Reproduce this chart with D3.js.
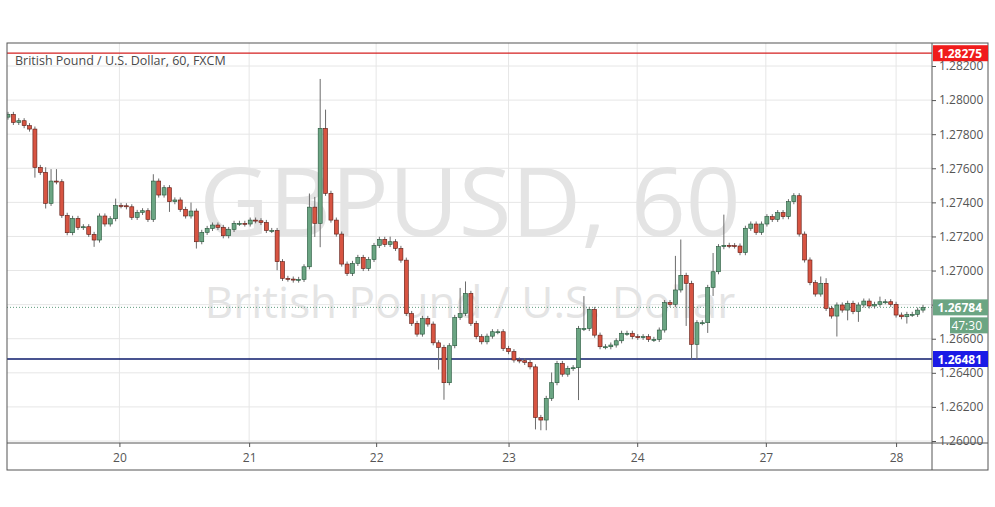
<!DOCTYPE html>
<html>
<head>
<meta charset="utf-8">
<script src="https://cdn.jsdelivr.net/npm/d3@7"></script>
<style>
  body { margin: 0; background: #fff; }
  text { font-family: "Open Sans", "DejaVu Sans", sans-serif; }
</style>
</head>
<body>
<svg width="995" height="507"></svg>
<script>
// hourly closes, GBP/USD
const closes = [
  1.27916, 1.27869, 1.27879, 1.27850, 1.27830, 1.27605, 1.27576, 1.27394, 1.27525, 1.27521,
  1.27324, 1.27222, 1.27306, 1.27253, 1.27257, 1.27212, 1.27179, 1.27320, 1.27273, 1.27304,
  1.27382, 1.27380, 1.27374, 1.27312, 1.27341, 1.27351, 1.27300, 1.27525, 1.27443, 1.27486,
  1.27404, 1.27414, 1.27359, 1.27320, 1.27349, 1.27169, 1.27224, 1.27247, 1.27267, 1.27253,
  1.27204, 1.27241, 1.27277, 1.27277, 1.27273, 1.27296, 1.27292, 1.27282, 1.27235, 1.27235,
  1.27052, 1.26954, 1.26950, 1.26944, 1.26948, 1.27022, 1.27372, 1.27277,
  1.27834, 1.27453, 1.27296, 1.27214, 1.27038, 1.26983, 1.27042, 1.27077, 1.27012, 1.27065,
  1.27147, 1.27183, 1.27153, 1.27169, 1.27130, 1.27061, 1.26748, 1.26690, 1.26627, 1.26719,
  1.26686, 1.26576, 1.26549, 1.26342, 1.26559, 1.26725, 1.26748, 1.26866, 1.26690, 1.26612,
  1.26582, 1.26615, 1.26641, 1.26641, 1.26543, 1.26524, 1.26475, 1.26471, 1.26461, 1.26435,
  1.26138, 1.26123, 1.26250, 1.26342, 1.26455, 1.26392, 1.26426, 1.26430, 1.26660, 1.26660,
  1.26772, 1.26621, 1.26553, 1.26553, 1.26563, 1.26588,
  1.26632, 1.26632, 1.26612, 1.26608, 1.26612, 1.26596, 1.26596, 1.26651, 1.26812, 1.26802,
  1.26886, 1.26972, 1.26925, 1.26567, 1.26694, 1.26694, 1.26901, 1.26993, 1.27140, 1.27148,
  1.27146, 1.27144, 1.27105, 1.27248, 1.27273, 1.27224, 1.27273, 1.27316, 1.27300, 1.27340,
  1.27316, 1.27404, 1.27439, 1.27214, 1.27062, 1.26929, 1.26862, 1.26925, 1.26778, 1.26733,
  1.26798, 1.26768, 1.26808, 1.26759, 1.26798, 1.26821, 1.26792, 1.26802, 1.26817, 1.26817,
  1.26802, 1.26739, 1.26729, 1.26743, 1.26743, 1.26768, 1.26784
];
const firstOpen = 1.27900;
// notable wicks in pips [candle index, pips]; others get a short wick
const upperWicks = [[7, 3], [8, 7], [9, 7], [20, 4], [27, 4], [34, 5], [56, 8], [57, 6], [58, 29], [59, 11],
  [71, 3], [84, 15], [85, 7], [101, 6], [107, 19], [124, 20], [125, 21], [131, 11], [133, 18],
  [151, 4], [152, 3], [162, 3]];
const lowerWicks = [[5, 6], [7, 3], [16, 4], [30, 6], [35, 4], [50, 5], [57, 8], [58, 14], [80, 13], [81, 10],
  [98, 7], [99, 6], [100, 6], [106, 19], [126, 25], [127, 9], [128, 9], [130, 6], [131, 5],
  [154, 12], [156, 6], [158, 6], [167, 4]];
const dayLabels = ['20', '21', '22', '23', '24', '27', '28'];
const dayTickIndex = [20.7, 44.8, 68.4, 93, 116.9, 140.8, 165];
const priceTicks = [1.260, 1.262, 1.264, 1.266, 1.268, 1.270, 1.272, 1.274, 1.276, 1.278, 1.280, 1.282];
const resistance = 1.28275;
const support = 1.26481;
const lastPrice = 1.26784;
const countdown = '47:30';

const svg = d3.select('svg');
const pLeft = 7, pTop = 43, plotRight = 932, axisRight = 988, plotBottom = 443, pBottom = 470;

const x = d3.scaleLinear().domain([0, closes.length - 1]).range([8, 923]);
const y = d3.scaleLinear().domain([1.260, 1.282]).range([441, 66]);

const upMap = new Map(upperWicks), downMap = new Map(lowerWicks);
const candles = closes.map((c, i) => {
  const o = i === 0 ? firstOpen : closes[i - 1];
  const hi = Math.max(o, c) + (upMap.get(i) || 1.5) * 0.0001;
  const lo = Math.min(o, c) - (downMap.get(i) || 1.5) * 0.0001;
  return { i, o, c, hi, lo };
});

const defs = svg.append('defs');
defs.append('clipPath').attr('id', 'plot')
  .append('rect').attr('x', pLeft).attr('y', pTop).attr('width', plotRight - pLeft).attr('height', plotBottom - pTop);

const plot = svg.append('g').attr('clip-path', 'url(#plot)');

// grid
plot.selectAll('.hg').data(priceTicks).join('line')
  .attr('x1', pLeft).attr('x2', plotRight)
  .attr('y1', d => y(d)).attr('y2', d => y(d))
  .attr('stroke', '#e6e6e6');
plot.selectAll('.vg').data(dayTickIndex).join('line')
  .attr('x1', d => x(d)).attr('x2', d => x(d))
  .attr('y1', pTop).attr('y2', plotBottom)
  .attr('stroke', '#e6e6e6');

// watermark
plot.append('text').attr('x', 470).attr('y', 236).attr('text-anchor', 'middle')
  .attr('font-size', 96).attr('fill', '#e4e4e4').text('GBPUSD, 60');
plot.append('text').attr('x', 470).attr('y', 318).attr('text-anchor', 'middle')
  .attr('font-size', 44).attr('fill', '#e4e4e4').text('British Pound / U.S. Dollar');

// price lines
plot.append('line').attr('x1', pLeft).attr('x2', plotRight)
  .attr('y1', y(resistance)).attr('y2', y(resistance)).attr('stroke', '#d42020').attr('stroke-width', 1.2);
plot.append('line').attr('x1', pLeft).attr('x2', plotRight)
  .attr('y1', y(support)).attr('y2', y(support)).attr('stroke', '#0c1a6b').attr('stroke-width', 1.3);
plot.append('line').attr('x1', pLeft).attr('x2', plotRight)
  .attr('y1', y(lastPrice)).attr('y2', y(lastPrice)).attr('stroke', '#5f9c7e')
  .attr('stroke-dasharray', '1,2');

// candles
const bw = 4;
const cg = plot.append('g');
cg.selectAll('.wick').data(candles).join('line')
  .attr('x1', d => x(d.i)).attr('x2', d => x(d.i))
  .attr('y1', d => y(d.hi)).attr('y2', d => y(d.lo))
  .attr('stroke', '#6b6b6b').attr('stroke-width', 1);
cg.selectAll('.body').data(candles).join('rect')
  .attr('x', d => x(d.i) - bw / 2)
  .attr('y', d => y(Math.max(d.o, d.c)))
  .attr('width', bw)
  .attr('height', d => Math.max(1, Math.abs(y(d.o) - y(d.c))))
  .attr('fill', d => d.c >= d.o ? '#6ba583' : '#d75442')
  .attr('stroke', d => d.c >= d.o ? '#225437' : '#5b1a13')
  .attr('stroke-width', 0.6);

// title
svg.append('text').attr('x', 15).attr('y', 65).attr('font-size', 12.5).attr('fill', '#4a4a4a')
  .text('British Pound / U.S. Dollar, 60, FXCM');

// frames
svg.append('rect').attr('x', pLeft).attr('y', pTop).attr('width', axisRight - pLeft).attr('height', pBottom - pTop)
  .attr('fill', 'none').attr('stroke', '#555');
svg.append('line').attr('x1', plotRight).attr('x2', plotRight).attr('y1', pTop).attr('y2', pBottom).attr('stroke', '#555');
svg.append('line').attr('x1', pLeft).attr('x2', axisRight).attr('y1', plotBottom).attr('y2', plotBottom).attr('stroke', '#555');

// price axis (the 1.268 label sits under the last-price tag)
const ya = svg.append('g').attr('transform', `translate(${plotRight},0)`)
  .call(d3.axisRight(y).tickValues(priceTicks).tickFormat(d => d === 1.268 ? '' : d3.format('.5f')(d)).tickSize(4).tickPadding(3));
ya.select('.domain').remove();
ya.selectAll('line').attr('stroke', '#555');
ya.selectAll('text').attr('font-size', 12).attr('fill', '#555').attr('font-family', '"Open Sans", sans-serif');

// date axis
const xa = svg.append('g').attr('transform', `translate(0,${plotBottom})`)
  .call(d3.axisBottom(x).tickValues(dayTickIndex).tickFormat((d, i) => dayLabels[i]).tickSize(4).tickPadding(6));
xa.select('.domain').remove();
xa.selectAll('line').attr('stroke', '#555');
xa.selectAll('text').attr('font-size', 12).attr('fill', '#555').attr('font-family', '"Open Sans", sans-serif');

// price labels
function tag(price, fill, txt) {
  const yy = y(price);
  svg.append('rect').attr('x', plotRight + 1).attr('y', yy - 8).attr('width', 55).attr('height', 16).attr('fill', fill);
  svg.append('text').attr('x', plotRight + 50).attr('y', yy + 4.5).attr('text-anchor', 'end')
    .attr('font-size', 12).attr('font-weight', 'bold').attr('fill', '#fff').text(txt);
}
tag(resistance, '#f01c1c', d3.format('.5f')(resistance));
tag(support, '#1a1ae6', d3.format('.5f')(support));
tag(lastPrice, '#6ba583', d3.format('.5f')(lastPrice));
svg.append('rect').attr('x', plotRight + 18).attr('y', y(lastPrice) + 10).attr('width', 38).attr('height', 16).attr('fill', '#6ba583');
svg.append('text').attr('x', plotRight + 50).attr('y', y(lastPrice) + 22.5).attr('text-anchor', 'end')
  .attr('font-size', 12).attr('fill', '#fff').text(countdown);
</script>
</body>
</html>
